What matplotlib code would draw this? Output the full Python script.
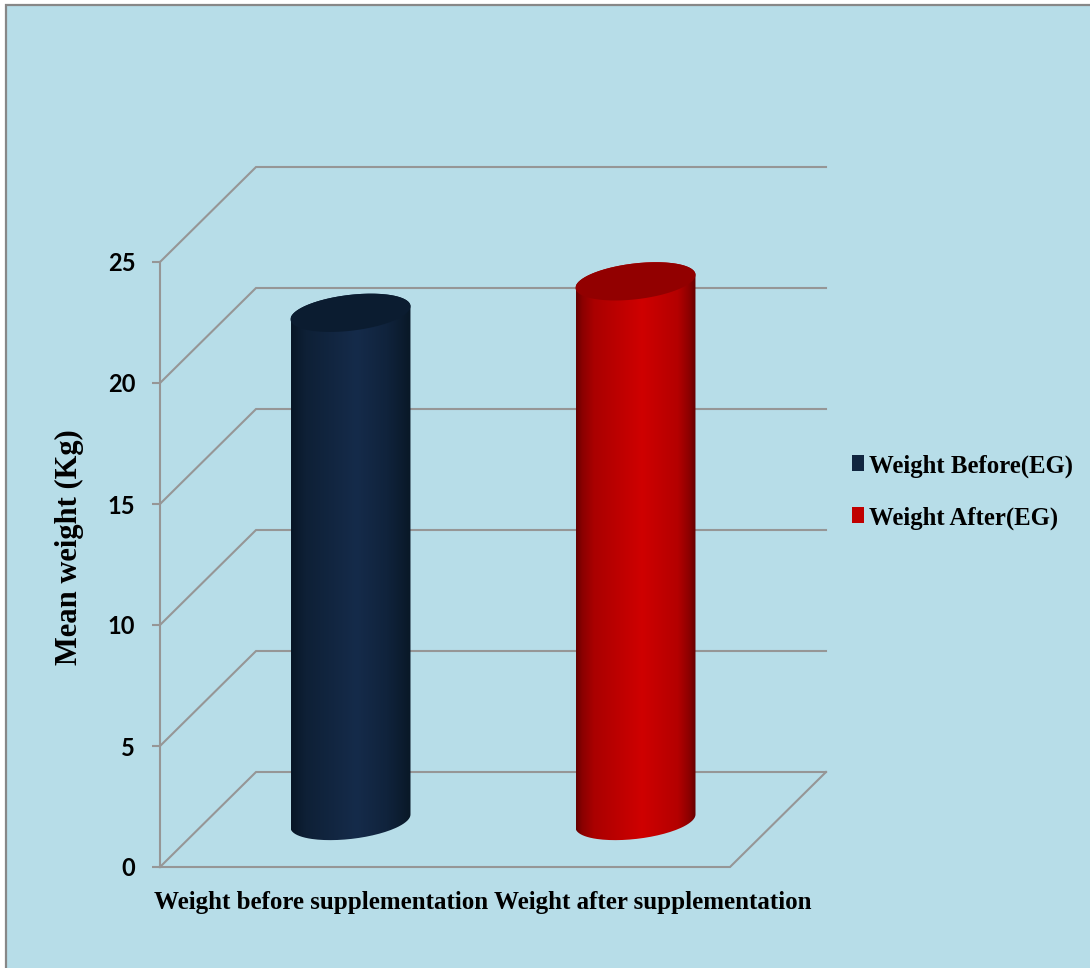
import numpy as np
import matplotlib
matplotlib.use("Agg")
import matplotlib.pyplot as plt
from matplotlib.colors import LinearSegmentedColormap
from matplotlib.patches import PathPatch, Polygon, Rectangle
from matplotlib.path import Path

categories = ["Weight before supplementation", "Weight after supplementation"]
series_names = ["Weight Before(EG)", "Weight After(EG)"]
mean_weight = [21.0, 22.3]
y_ticks = [0, 5, 10, 15, 20, 25]

W, H = 1090, 968
ZERO_PX = 867.0
PX_PER_KG = 24.2
FLOOR_LEFT, FLOOR_RIGHT = 160, 730
DEPTH_X, DEPTH_KG = 96, 95 / PX_PER_KG

BG = "#b7dde8"
GRID = "#969696"
SERIF = "Liberation Serif"

body_stops = [
    [(0, "#081626"), (0.12, "#0e2036"), (0.55, "#152b4a"), (0.8, "#10233c"), (1, "#091827")],
    [(0, "#650000"), (0.05, "#8a0000"), (0.15, "#aa0000"), (0.55, "#cf0000"),
     (0.85, "#b40000"), (0.95, "#8a0000"), (1, "#640000")],
]
top_colors = ["#0b1c30", "#920000"]
swatch_colors = ["#10253f", "#c00000"]


def ellipse_arc(cx, cy, t):
    # sheared ellipse of the cylinder cap, y in kg
    return cx + 60 * np.cos(t), cy + (6.5 * np.cos(t) - 18 * np.sin(t)) / PX_PER_KG


fig = plt.figure(figsize=(W / 100, H / 100), dpi=100, facecolor="white")
fig.add_artist(Rectangle((5 / W, 0), 1 - 5 / W, 1 - 5 / H, transform=fig.transFigure,
                         facecolor=BG, edgecolor="none", zorder=-2))
fig.add_artist(plt.Line2D([6 / W, 6 / W, 1], [0, 1 - 5 / H, 1 - 5 / H], transform=fig.transFigure,
                          color="#878787", lw=1.6, solid_joinstyle="miter", zorder=-1))

ax = fig.add_axes([0, 0, 1, 1])
ax.patch.set_alpha(0)
for name in ["top", "right", "bottom"]:
    ax.spines[name].set_visible(False)
ax.spines["left"].set_position(("data", FLOOR_LEFT))
ax.spines["left"].set_bounds(0, 25)
ax.spines["left"].set_color(GRID)
ax.spines["left"].set_linewidth(1.5)

# back wall and side wall lines
for v in y_ticks:
    ax.plot([FLOOR_LEFT, FLOOR_LEFT + DEPTH_X, FLOOR_RIGHT + DEPTH_X],
            [v, v + DEPTH_KG, v + DEPTH_KG], color=GRID, lw=1.5, zorder=1,
            solid_joinstyle="miter")
ax.plot([FLOOR_LEFT, FLOOR_RIGHT, FLOOR_RIGHT + DEPTH_X], [0, 0, DEPTH_KG],
        color=GRID, lw=1.5, zorder=1, solid_joinstyle="miter")

cat_width = (FLOOR_RIGHT - FLOOR_LEFT) / len(categories)
for i, value in enumerate(mean_weight):
    cx = FLOOR_LEFT + cat_width * (i + 0.5) + DEPTH_X / 2
    base = 46 / PX_PER_KG
    top = base + value

    low_x, low_y = ellipse_arc(cx, base, np.linspace(np.pi, 0, 80))
    up_x, up_y = ellipse_arc(cx, top, np.linspace(0, -np.pi, 80))
    body = Path(np.column_stack([np.r_[low_x, up_x], np.r_[low_y, up_y]]))

    cmap = LinearSegmentedColormap.from_list("cyl%d" % i, body_stops[i])
    im = ax.imshow(np.linspace(0, 1, 256)[None, :], cmap=cmap, aspect="auto",
                   extent=[cx - 60, cx + 60, base - 1, top + 1], zorder=3)
    im.set_clip_path(PathPatch(body, transform=ax.transData))

    cap_x, cap_y = ellipse_arc(cx, top, np.linspace(0, 2 * np.pi, 160))
    ax.add_patch(Polygon(np.column_stack([cap_x, cap_y]), closed=True,
                         facecolor=top_colors[i], edgecolor="none", zorder=4))

ax.set_xlim(0, W)
ax.set_ylim((ZERO_PX - H) / PX_PER_KG, ZERO_PX / PX_PER_KG)
ax.set_xticks([])
ax.set_yticks(y_ticks)
ax.tick_params(axis="y", length=5.8, width=1.5, color=GRID, pad=12)
for lab in ax.get_yticklabels():
    lab.set_fontfamily("Lato")
    lab.set_fontweight("bold")
    lab.set_fontsize(17)

# text is placed in pixel positions through this helper
def px(x, y):
    return x, (ZERO_PX - y) / PX_PER_KG


cat_centers = [321, 653]
for name, x in zip(categories, cat_centers):
    ax.text(*px(x, 902), name, family=SERIF, weight="bold", fontsize=18,
            ha="center", va="center")

ax.text(*px(69, 547), "Mean weight (Kg)", family=SERIF, weight="bold", fontsize=22,
        rotation=90, ha="center", va="center")

for name, color, y in zip(series_names, swatch_colors, [463, 515]):
    ax.add_patch(Rectangle(px(852, y + 8), 12, 16 / PX_PER_KG, facecolor=color, edgecolor="none"))
    ax.text(*px(869, y + 3), name, family=SERIF, weight="bold", fontsize=17.8,
            ha="left", va="center")

fig.savefig("out.png", dpi=100)
